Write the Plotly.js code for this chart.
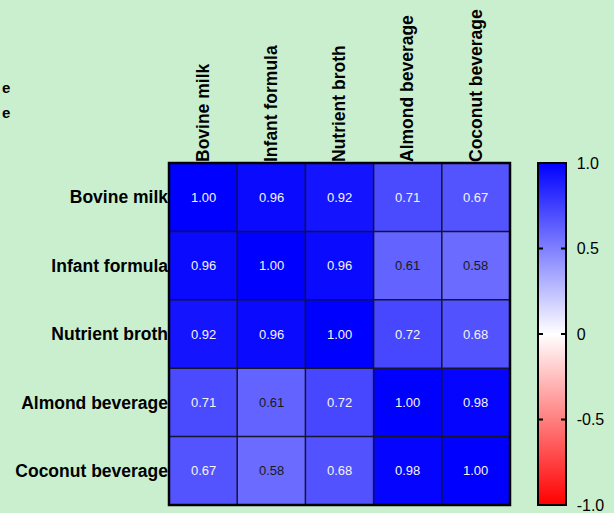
<!DOCTYPE html>
<html>
<head>
<meta charset="utf-8">
<script src="https://cdn.plot.ly/plotly-3.0.1.min.js"></script>
<style>html,body{margin:0;padding:0;background:#c9efcf;}#chart{width:614px;height:513px;}</style>
</head>
<body>
<div id="chart"></div>
<script>
const categories = ["Bovine milk", "Infant formula", "Nutrient broth", "Almond beverage", "Coconut beverage"];
const row_bovine   = [1.00, 0.96, 0.92, 0.71, 0.67];
const row_infant   = [0.96, 1.00, 0.96, 0.61, 0.58];
const row_nutrient = [0.92, 0.96, 1.00, 0.72, 0.68];
const row_almond   = [0.71, 0.61, 0.72, 1.00, 0.98];
const row_coconut  = [0.67, 0.58, 0.68, 0.98, 1.00];
const colorbarTickVals = [1, 0.5, 0, -0.5, -1];
const colorbarTickText = ["1.0", "0.5", "0", "-0.5", "-1.0"];
const edgeTexts = ["e", "e"];

const z = [row_bovine, row_infant, row_nutrient, row_almond, row_coconut];
const n = categories.length;
const idx = categories.map((_, i) => i);
const FONT = 'Liberation Sans, Arial, sans-serif';
const cbX0 = 1.082, cbThick = 28;

const trace = {
  type: 'heatmap',
  x: idx, y: idx, z: z,
  zmin: -1, zmax: 1,
  colorscale: [[0, '#ff0000'], [0.5, '#ffffff'], [1, '#0000ff']],
  hoverinfo: 'skip',
  colorbar: {
    x: cbX0, xanchor: 'left', xpad: 0,
    y: 0.5, yanchor: 'middle', len: 1, lenmode: 'fraction', ypad: 0,
    thickness: cbThick, outlinewidth: 2, outlinecolor: '#000',
    tickvals: colorbarTickVals, ticktext: colorbarTickText,
    ticks: 'outside', ticklen: 7, tickwidth: 1, tickcolor: 'rgba(0,0,0,0)',
    ticklabeloverflow: 'allow',
    tickfont: {family: FONT, size: 16, color: '#000'}
  }
};

const annotations = [];
z.forEach((row, r) => row.forEach((v, c) => {
  annotations.push({
    x: c, y: r, xref: 'x', yref: 'y', showarrow: false,
    text: v.toFixed(2),
    font: {family: FONT, size: 13, color: v < 0.65 ? '#1a1a1a' : '#f4f4f4'}
  });
}));
edgeTexts.forEach((t, i) => {
  annotations.push({
    x: 0, y: 1 + (0.22 - i * 0.073), xref: 'paper', yref: 'paper',
    xshift: -169, xanchor: 'left', yanchor: 'middle', showarrow: false,
    text: '<b>' + t + '</b>',
    font: {family: FONT, size: 15, color: '#000'}
  });
});

const shapes = [];
for (let k = 1; k < n; k++) {
  shapes.push({type: 'line', xref: 'x', yref: 'paper', x0: k - 0.5, x1: k - 0.5, y0: 0, y1: 1, line: {color: '#151530', width: 1.5}});
  shapes.push({type: 'line', xref: 'paper', yref: 'y', x0: 0, x1: 1, y0: k - 0.5, y1: k - 0.5, line: {color: '#151530', width: 1.5}});
}
shapes.push({type: 'rect', xref: 'paper', yref: 'paper', x0: 0, x1: 1, y0: 0, y1: 1, line: {color: '#000', width: 2.5}});

const tickFont = {family: FONT, size: 17.5, color: '#000', weight: 'bold'};

const layout = {
  width: 614, height: 513,
  margin: {l: 169, r: 102, t: 163, b: 8},
  paper_bgcolor: '#c9efcf', plot_bgcolor: '#c9efcf',
  xaxis: {side: 'top', tickvals: idx, ticktext: categories, tickangle: -90,
          tickfont: tickFont, showgrid: false, zeroline: false, ticks: '', ticklen: 0,
          range: [-0.5, n - 0.5], fixedrange: true},
  yaxis: {tickvals: idx, ticktext: categories, autorange: false, range: [n - 0.5, -0.5],
          tickfont: tickFont, showgrid: false, zeroline: false, ticks: '', ticklen: 0, fixedrange: true},
  annotations: annotations,
  shapes: shapes,
  showlegend: false
};

Plotly.newPlot('chart', [trace], layout, {displayModeBar: false, staticPlot: true}).then(gd => {
  // small inside tick marks on both edges of the colour bar, placed from the bar's rendered box
  const outline = gd.querySelector('rect.cboutline');
  if (!outline) return;
  const bb = outline.getBoundingClientRect();
  const host = gd.getBoundingClientRect();
  const layer = document.createElementNS('http://www.w3.org/2000/svg', 'svg');
  layer.setAttribute('width', 614); layer.setAttribute('height', 513);
  layer.style.position = 'absolute'; layer.style.left = '0px'; layer.style.top = '0px';
  layer.style.pointerEvents = 'none';
  gd.style.position = 'relative';
  colorbarTickVals.filter(v => Math.abs(v) < 1).forEach(v => {
    const yy = bb.top - host.top + bb.height * (1 - (v + 1) / 2);
    const x0 = bb.left - host.left, x1 = bb.right - host.left;
    [[x0, x0 + 5], [x1 - 5, x1]].forEach(([a, b]) => {
      const l = document.createElementNS('http://www.w3.org/2000/svg', 'line');
      l.setAttribute('x1', a); l.setAttribute('x2', b);
      l.setAttribute('y1', yy); l.setAttribute('y2', yy);
      l.setAttribute('stroke', '#000'); l.setAttribute('stroke-width', '2');
      layer.appendChild(l);
    });
  });
  gd.appendChild(layer);
});
</script>
</body>
</html>
